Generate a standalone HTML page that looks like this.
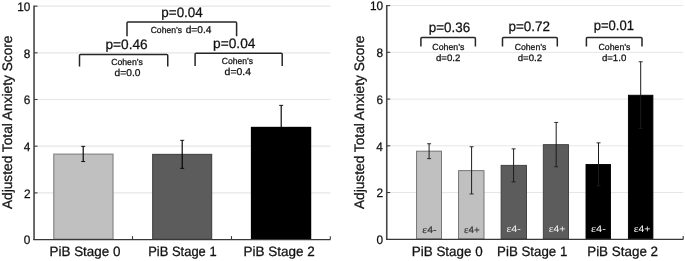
<!DOCTYPE html>
<html><head><meta charset="utf-8"><title>fig</title>
<style>
html,body{margin:0;padding:0;background:#fff;}
body{width:685px;height:261px;overflow:hidden;}
svg{display:block;will-change:transform;text-rendering:geometricPrecision;font-family:"Liberation Sans",sans-serif;}
.ax{stroke:#383838;stroke-width:1.15;fill:none;}
.ay{stroke:#464646;stroke-width:1.6;fill:none;}
.tk{stroke:#3a3a3a;stroke-width:1.1;fill:none;}
.gr{stroke:#e6e6e6;}
.br{stroke:#262626;stroke-width:1.5;fill:none;stroke-linejoin:round;}
.eb{fill:none;}
.ec{stroke-width:0.9;fill:none;}
text{fill:#111;stroke:#111;stroke-width:0.26px;}
</style></head><body>
<svg width="685" height="261" viewBox="0 0 685 261">

<line class="gr" stroke-width="1.15" x1="34.3" x2="330.5" y1="192.87" y2="192.87"/>
<line class="gr" stroke-width="1.15" x1="34.3" x2="330.5" y1="146.19" y2="146.19"/>
<line class="gr" stroke-width="1.15" x1="34.3" x2="330.5" y1="99.51" y2="99.51"/>
<line class="gr" stroke-width="1.15" x1="34.3" x2="330.5" y1="52.83" y2="52.83"/>
<line class="gr" stroke-width="1.15" x1="34.3" x2="330.5" y1="6.15" y2="6.15"/>
<rect x="53.800000000000004" y="154.15" width="59.20" height="85.00" fill="#c0c0c0" stroke="#8a8a8a" stroke-width="1.25"/>
<rect x="152.7" y="154.45" width="58.90" height="84.70" fill="#5c5c5c" stroke="#4a4a4a" stroke-width="1.25"/>
<rect x="251.5" y="127.45" width="59.10" height="111.70" fill="#000" stroke="#000" stroke-width="1.25"/>
<path class="eb" stroke="#000" stroke-width="1.15" d="M83.2 146.35V161.55"/><path class="ec" stroke="#000" d="M81.2 146.35H85.2M81.2 161.55H85.2"/>
<path class="eb" stroke="#000" stroke-width="1.15" d="M182.2 140.35V168.35"/><path class="ec" stroke="#000" d="M180.2 140.35H184.2M180.2 168.35H184.2"/>
<path class="eb" stroke="#000" stroke-width="1.15" d="M281.2 105.35V149.35"/><path class="ec" stroke="#000" d="M279.2 105.35H283.2M279.2 149.35H283.2"/>
<path class="ay" d="M34.05 5.55V240.05"/>
<path class="ax" d="M33.3 239.55H330.5"/>
<line class="tk" x1="34.3" x2="37.5" y1="192.87" y2="192.87"/>
<line class="tk" x1="34.3" x2="37.5" y1="146.19" y2="146.19"/>
<line class="tk" x1="34.3" x2="37.5" y1="99.51" y2="99.51"/>
<line class="tk" x1="34.3" x2="37.5" y1="52.83" y2="52.83"/>
<line class="tk" x1="34.3" x2="37.5" y1="6.15" y2="6.15"/>
<line class="tk" x1="132.5" x2="132.5" y1="239.55" y2="236.15"/>
<line class="tk" x1="231.5" x2="231.5" y1="239.55" y2="236.15"/>
<line class="tk" x1="330.3" x2="330.3" y1="239.55" y2="236.15"/>
<text transform="translate(23.78 244.40) scale(0.9700 1)" font-size="12.2">0</text>
<text transform="translate(23.92 197.72) scale(0.9700 1)" font-size="12.2">2</text>
<text transform="translate(23.66 151.04) scale(0.9700 1)" font-size="12.2">4</text>
<text transform="translate(23.84 104.36) scale(0.9700 1)" font-size="12.2">6</text>
<text transform="translate(23.84 57.68) scale(0.9700 1)" font-size="12.2">8</text>
<text transform="translate(17.21 11.00) scale(0.9700 1)" font-size="12.2">10</text>
<text transform="translate(49.49 255.50) scale(0.9889 1)" font-size="13.6">PiB Stage 0</text>
<text transform="translate(148.23 255.50) scale(0.9523 1)" font-size="13.6">PiB Stage 1</text>
<text transform="translate(243.48 255.50) scale(0.9942 1)" font-size="13.6">PiB Stage 2</text>
<text transform="translate(11.65 209.08) rotate(-90) scale(0.9939 1)" font-size="13.8">Adjusted Total Anxiety Score</text>
<line class="gr" stroke-width="1.0" x1="387.0" x2="683.4" y1="192.56" y2="192.56"/>
<line class="gr" stroke-width="1.0" x1="387.0" x2="683.4" y1="145.82" y2="145.82"/>
<line class="gr" stroke-width="1.0" x1="387.0" x2="683.4" y1="99.08" y2="99.08"/>
<line class="gr" stroke-width="1.0" x1="387.0" x2="683.4" y1="52.34" y2="52.34"/>
<line class="gr" stroke-width="1.0" x1="387.0" x2="683.4" y1="5.60" y2="5.60"/>
<rect x="416.6" y="151.15" width="24.90" height="87.75" fill="#c0c0c0" stroke="#6a6a6a" stroke-width="0.9"/>
<rect x="458.6" y="170.65" width="25.40" height="68.25" fill="#c0c0c0" stroke="#6a6a6a" stroke-width="0.9"/>
<rect x="501.1" y="165.35" width="25.40" height="73.55" fill="#5c5c5c" stroke="#3a3a3a" stroke-width="0.9"/>
<rect x="543.3000000000001" y="144.65" width="25.20" height="94.25" fill="#5c5c5c" stroke="#3a3a3a" stroke-width="0.9"/>
<rect x="586.0" y="164.45" width="24.50" height="74.45" fill="#000" stroke="#000" stroke-width="0.9"/>
<rect x="628.4" y="95.25" width="24.50" height="143.65" fill="#000" stroke="#000" stroke-width="0.9"/>
<path class="eb" stroke="#1c1c1c" stroke-width="1.0" d="M429.1 143.75V158.65"/><path class="ec" stroke="#1c1c1c" d="M427.1 143.75H431.1M427.1 158.65H431.1"/>
<path class="eb" stroke="#1c1c1c" stroke-width="1.0" d="M471.6 146.75V193.95"/><path class="ec" stroke="#1c1c1c" d="M469.6 146.75H473.6M469.6 193.95H473.6"/>
<path class="eb" stroke="#1c1c1c" stroke-width="1.0" d="M513.6 148.85V181.85"/><path class="ec" stroke="#1c1c1c" d="M511.6 148.85H515.6M511.6 181.85H515.6"/>
<path class="eb" stroke="#1c1c1c" stroke-width="1.0" d="M556.2 122.45V166.75"/><path class="ec" stroke="#1c1c1c" d="M554.2 122.45H558.2M554.2 166.75H558.2"/>
<path class="eb" stroke="#1c1c1c" stroke-width="1.0" d="M598.5 142.85V185.85"/><path class="ec" stroke="#1c1c1c" d="M596.5 142.85H600.5M596.5 185.85H600.5"/>
<path class="eb" stroke="#1c1c1c" stroke-width="1.0" d="M640.7 61.75V128.35"/><path class="ec" stroke="#1c1c1c" d="M638.7 61.75H642.7M638.7 128.35H642.7"/>
<path class="ay" d="M386.75 5.00V239.8"/>
<path class="ax" d="M386.0 239.3H683.4"/>
<line class="tk" x1="387.0" x2="390.2" y1="192.56" y2="192.56"/>
<line class="tk" x1="387.0" x2="390.2" y1="145.82" y2="145.82"/>
<line class="tk" x1="387.0" x2="390.2" y1="99.08" y2="99.08"/>
<line class="tk" x1="387.0" x2="390.2" y1="52.34" y2="52.34"/>
<line class="tk" x1="387.0" x2="390.2" y1="5.60" y2="5.60"/>
<line class="tk" x1="683.2" x2="683.2" y1="239.3" y2="235.9"/>
<text transform="translate(376.48 244.15) scale(0.9700 1)" font-size="12.2">0</text>
<text transform="translate(376.62 197.41) scale(0.9700 1)" font-size="12.2">2</text>
<text transform="translate(376.36 150.67) scale(0.9700 1)" font-size="12.2">4</text>
<text transform="translate(376.54 103.93) scale(0.9700 1)" font-size="12.2">6</text>
<text transform="translate(376.54 57.19) scale(0.9700 1)" font-size="12.2">8</text>
<text transform="translate(369.91 10.45) scale(0.9700 1)" font-size="12.2">10</text>
<text transform="translate(411.79 255.50) scale(0.9875 1)" font-size="13.6">PiB Stage 0</text>
<text transform="translate(497.10 255.50) scale(0.9780 1)" font-size="13.6">PiB Stage 1</text>
<text transform="translate(587.19 255.50) scale(0.9871 1)" font-size="13.6">PiB Stage 2</text>
<text transform="translate(364.10 209.08) rotate(-90) scale(0.9939 1)" font-size="13.8">Adjusted Total Anxiety Score</text>
<text transform="translate(422.33 232.80) scale(1.1039 1)" font-size="9.6" style="fill:#333;stroke:#333;stroke-width:0.12px;"><tspan font-family="Liberation Serif" font-size="10.4">ε</tspan>4-</text>
<text transform="translate(464.06 232.80) scale(1.0261 1)" font-size="9.6" style="fill:#333;stroke:#333;stroke-width:0.12px;"><tspan font-family="Liberation Serif" font-size="10.4">ε</tspan>4+</text>
<text transform="translate(506.42 231.50) scale(1.1205 1)" font-size="9.6" style="fill:#f4f4f4;stroke:#f4f4f4;stroke-width:0px;"><tspan font-family="Liberation Serif" font-size="10.4">ε</tspan>4-</text>
<text transform="translate(548.63 231.50) scale(1.0885 1)" font-size="9.6" style="fill:#f4f4f4;stroke:#f4f4f4;stroke-width:0px;"><tspan font-family="Liberation Serif" font-size="10.4">ε</tspan>4+</text>
<text transform="translate(591.01 232.00) scale(1.1537 1)" font-size="9.6" style="fill:#fafafa;stroke:#fafafa;stroke-width:0px;"><tspan font-family="Liberation Serif" font-size="10.4">ε</tspan>4-</text>
<text transform="translate(633.63 232.00) scale(1.0885 1)" font-size="9.6" style="fill:#fafafa;stroke:#fafafa;stroke-width:0px;"><tspan font-family="Liberation Serif" font-size="10.4">ε</tspan>4+</text>
<path class="br" d="M79.5 66.55V55.45Q79.5 54.45 80.5 54.45H166.75Q167.75 54.45 167.75 55.45V66.55"/>
<text transform="translate(105.51 48.80) scale(0.9978 1)" font-size="13.7">p=0.46</text>
<text transform="translate(111.17 64.60) scale(0.9881 1)" font-size="8.8">Cohen’s</text>
<text transform="translate(114.56 76.40) scale(1.0348 1)" font-size="9.9">d=0.0</text>
<path class="br" d="M127 36.2V22.9Q127 21.9 128.0 21.9H235.6Q236.6 21.9 236.6 22.9V36.2"/>
<text transform="translate(161.33 17.20) scale(0.9806 1)" font-size="13.7">p=0.04</text>
<text transform="translate(150.67 33.20) scale(0.9754 1)" font-size="8.8">Cohen’s</text>
<text transform="translate(185.67 33.20) scale(1.0306 1)" font-size="9.9">d=0.4</text>
<path class="br" d="M195.1 65.9V54.2Q195.1 53.2 196.1 53.2H281.2Q282.2 53.2 282.2 54.2V65.9"/>
<text transform="translate(213.11 48.40) scale(1.0001 1)" font-size="13.7">p=0.04</text>
<text transform="translate(221.87 63.80) scale(0.9722 1)" font-size="8.8">Cohen’s</text>
<text transform="translate(224.55 75.30) scale(1.0614 1)" font-size="9.9">d=0.4</text>
<path class="br" d="M420.9 46.6V38.6Q420.9 37.6 421.9 37.6H474.4Q475.4 37.6 475.4 38.6V46.6"/>
<text transform="translate(428.83 31.50) scale(0.9781 1)" font-size="13.7">p=0.36</text>
<text transform="translate(432.36 49.80) scale(0.9945 1)" font-size="8.8">Cohen’s</text>
<text transform="translate(435.99 61.00) scale(1.0367 1)" font-size="9.3">d=0.2</text>
<path class="br" d="M502.5 46.6V38.6Q502.5 37.6 503.5 37.6H556.3Q557.3 37.6 557.3 38.6V46.6"/>
<text transform="translate(508.42 30.80) scale(0.9831 1)" font-size="13.7">p=0.72</text>
<text transform="translate(514.67 49.80) scale(0.9850 1)" font-size="8.8">Cohen’s</text>
<text transform="translate(517.79 61.00) scale(1.0278 1)" font-size="9.3">d=0.2</text>
<path class="br" d="M586.4 46.6V38.6Q586.4 37.6 587.4 37.6H641.0Q642 37.6 642 38.6V46.6"/>
<text transform="translate(593.65 30.30) scale(0.9552 1)" font-size="13.7">p=0.01</text>
<text transform="translate(598.56 49.80) scale(0.9913 1)" font-size="8.8">Cohen’s</text>
<text transform="translate(601.89 61.00) scale(1.0358 1)" font-size="9.3">d=1.0</text>
</svg></body></html>
